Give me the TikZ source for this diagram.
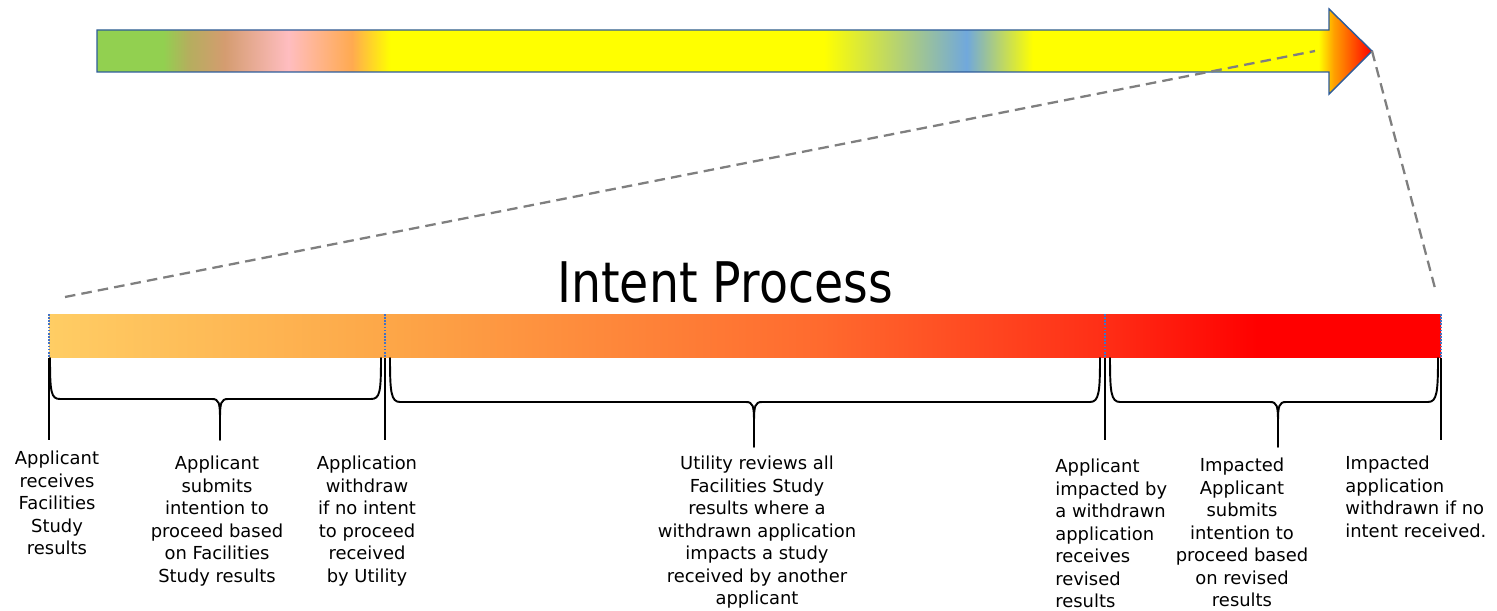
\documentclass[tikz,border=0pt]{standalone}
\usepackage{fontspec}
\setmainfont{DejaVu Sans}
\definecolor{xgreen}{HTML}{92D050}
\definecolor{xolive}{HTML}{B5AE5E}
\definecolor{xtan}{HTML}{D49C70}
\definecolor{xpink}{HTML}{FFBDC0}
\definecolor{xpeach}{HTML}{FFAA50}
\definecolor{xyellow}{HTML}{FFFF00}
\definecolor{xblue}{HTML}{70A8DC}
\definecolor{xorange}{HTML}{FFA000}
\definecolor{xred}{HTML}{FF0000}
\definecolor{xline}{HTML}{2E5C9A}
\definecolor{xdot}{HTML}{4472C4}
\definecolor{xdash}{HTML}{7F7F7F}
\definecolor{xbar1}{HTML}{FFCD64}
\definecolor{xbar2}{HTML}{FDA748}
\definecolor{xbar3}{HTML}{FF6A2E}
\definecolor{xbar4}{HTML}{FF2E16}
\pgfdeclarehorizontalshading{xarrowshade}{100bp}{color(0bp)=(xgreen); color(27.6bp)=(xgreen);
  color(28.6bp)=(xolive); color(30bp)=(xtan); color(32.5bp)=(xpink); color(35bp)=(xpeach);
  color(36.5bp)=(xyellow); color(53.5bp)=(xyellow); color(59.1bp)=(xblue); color(61.7bp)=(xyellow);
  color(72.9bp)=(xyellow); color(73.5bp)=(xorange); color(75bp)=(xred); color(100bp)=(xred)}
\pgfdeclarehorizontalshading{xbarshade}{100bp}{color(0bp)=(xbar1); color(25bp)=(xbar1);
  color(37.1bp)=(xbar2); color(52.7bp)=(xbar3); color(62.9bp)=(xbar4); color(68.4bp)=(xred);
  color(100bp)=(xred)}

\begin{document}
\begin{tikzpicture}[x=0.02cm,y=-0.02cm]
\tikzset{lbl/.style={font=\fontsize{10.2}{12.8}\selectfont,inner sep=0pt,anchor=north,align=center}}
\tikzset{xbrace/.style={draw=black,line width=1.1pt,line cap=round}}
\tikzset{xtick/.style={draw=black,line width=0.9pt}}
\tikzset{xdivide/.style={draw=xdot,line width=0.9pt,dash pattern=on 0.9pt off 0.9pt}}
\tikzset{xzoom/.style={draw=xdash,line width=1.3pt,dash pattern=on 6pt off 3.5pt}}
\useasboundingbox (0,0) rectangle (1497,611);
% top arrow
\path[shade,shading=xarrowshade,draw=xline,line width=0.8pt,line join=miter]
  (97,30) -- (1329,30) -- (1329,9) -- (1372,51) -- (1329,94) -- (1329,72) -- (97,72) -- cycle;
\coordinate (tip) at (1372,51);
\coordinate (shaftend) at (1315,51);
% bar
\path[shade,shading=xbarshade] (49,314) rectangle (1441,357);
\coordinate (barlink) at (65,297);
\coordinate (barend) at (1436,292);
\draw[xzoom] (barlink) -- (shaftend);
\draw[xzoom] (tip) -- (barend);
\node[font=\fontsize{27}{32}\selectfont,anchor=base,inner sep=0pt] (title) at (725,302) {\scalebox{1}[1.18]{Intent Process}};
% dividers
\foreach \x in {49,385,1105,1441}{
  \draw[xdivide] (\x,314) -- (\x,357);
  \draw[xtick] (\x,358) -- (\x,440);
}
% braces
\foreach \xa/\xb/\xt/\ym/\yt in {50/381/220/399/440, 390/1100/754/402/447, 1110/1438/1278/402/447}{
  \draw[xbrace] (\xa,358) .. controls (\xa,392) and (\xa+1,\ym) .. (\xa+10,\ym) -- (\xt-8,\ym)
    .. controls (\xt-1,\ym) and (\xt,\ym+4) .. (\xt,\ym+20) -- (\xt,\yt);
  \draw[xbrace] (\xb,358) .. controls (\xb,392) and (\xb-1,\ym) .. (\xb-10,\ym) -- (\xt+8,\ym)
    .. controls (\xt+1,\ym) and (\xt,\ym+4) .. (\xt,\ym+20);
}
% labels
\node[lbl] (recv) at (57,451) {Applicant\\receives\\Facilities\\Study\\results};
\node[lbl] (submit) at (217,456) {Applicant\\submits\\intention to\\proceed based\\on Facilities\\Study results};
\node[lbl] (withdraw) at (367,456) {Application\\withdraw\\if no intent\\to proceed\\received\\by Utility};
\node[lbl] (review) at (757,456) {Utility reviews all\\Facilities Study\\results where a\\withdrawn application\\impacts a study\\received by another\\applicant};
\node[lbl,anchor=north west,align=left] (impact) at (1055,459) {Applicant\\impacted by\\a withdrawn\\application\\receives\\revised\\results};
\node[lbl] (resubmit) at (1242,458) {Impacted\\Applicant\\submits\\intention to\\proceed based\\on revised\\results};
\node[lbl,anchor=north west,align=left] (final) at (1345,456) {Impacted\\application\\withdrawn if no\\intent received.};
\end{tikzpicture}
\end{document}
